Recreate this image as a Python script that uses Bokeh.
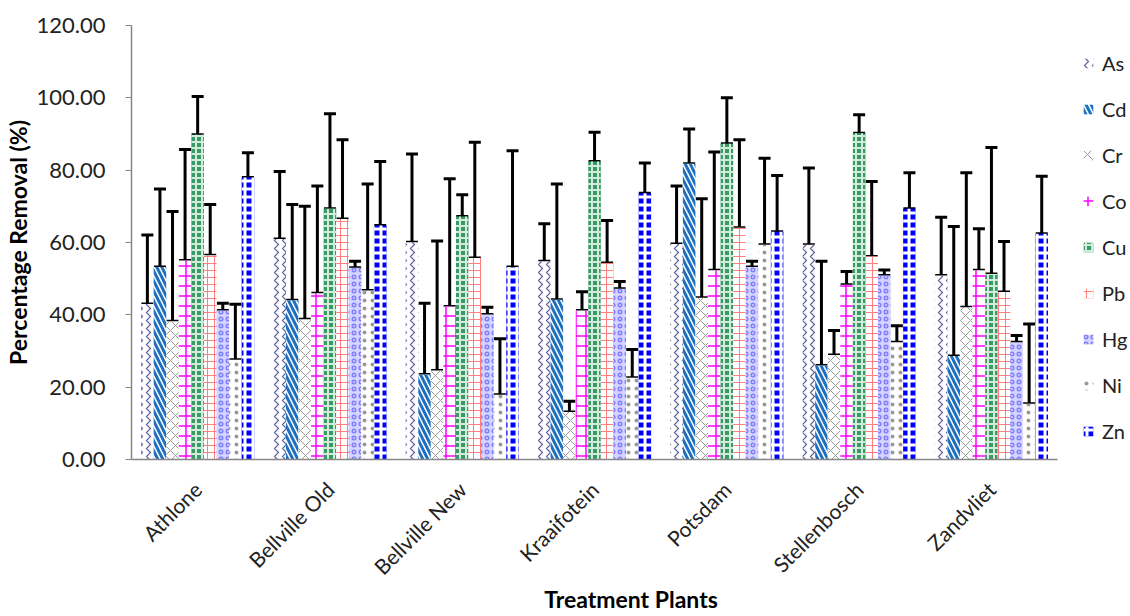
import math
from bokeh.plotting import figure
from bokeh.models import (ColumnDataSource, Range1d, Whisker, TeeHead,
                          Legend, LegendItem, FixedTicker, NumeralTickFormatter)
from bokeh.embed import file_html
from bokeh.resources import INLINE

plants = ["Athlone", "Bellville Old", "Bellville New", "Kraaifotein",
          "Potsdam", "Stellenbosch", "Zandvliet"]
metals = ["As", "Cd", "Cr", "Co", "Cu", "Pb", "Hg", "Ni", "Zn"]

# mean percentage removal per metal (one value per plant)
As = [43.0, 61.0, 60.1, 54.8, 59.6, 59.4, 50.9]
Cd = [53.2, 44.0, 23.5, 44.2, 81.8, 26.0, 28.6]
Cr = [38.2, 38.8, 24.6, 13.1, 44.7, 28.9, 42.1]
Co = [55.0, 46.0, 42.3, 41.2, 52.3, 48.3, 52.3]
Cu = [89.8, 69.3, 67.2, 82.4, 87.3, 90.2, 51.3]
Pb = [56.5, 66.5, 55.7, 54.3, 64.1, 56.1, 46.3]
Hg = [41.2, 53.0, 40.1, 47.2, 53.2, 50.9, 32.4]
Ni = [27.6, 46.7, 17.9, 22.6, 59.4, 32.4, 15.4]
Zn = [78.0, 64.7, 53.2, 73.6, 63.0, 69.3, 62.4]

# error (upper) per metal
As_err = [19.1, 18.6, 24.4, 10.4, 16.0, 21.2, 16.1]
Cd_err = [21.6, 26.5, 19.7, 32.0, 9.6, 28.8, 35.8]
Cr_err = [30.4, 31.2, 35.8, 3.0, 27.4, 6.8, 37.2]
Co_err = [30.7, 29.6, 35.3, 5.2, 32.7, 3.7, 11.5]
Cu_err = [10.6, 26.3, 6.0, 8.1, 12.7, 5.1, 35.0]
Pb_err = [14.0, 21.9, 32.0, 11.8, 24.3, 20.8, 14.0]
Hg_err = [2.0, 1.8, 2.0, 2.0, 1.6, 1.5, 1.9]
Ni_err = [15.3, 29.5, 15.5, 7.8, 23.9, 4.6, 22.1]
Zn_err = [6.8, 17.7, 32.2, 8.4, 15.5, 10.0, 15.9]

y_ticks = [0, 20, 40, 60, 80, 100, 120]

values = [As, Cd, Cr, Co, Cu, Pb, Hg, Ni, Zn]
errors = [As_err, Cd_err, Cr_err, Co_err, Cu_err, Pb_err, Hg_err, Ni_err, Zn_err]

styles = {
    "As": dict(fill_color="white", hatch_pattern="vertical_wave", hatch_color="#5f5f9f", hatch_scale=8, hatch_weight=1.2),
    "Cd": dict(fill_color="white", hatch_pattern="left_diagonal_line", hatch_color="#1f6fbf", hatch_scale=10, hatch_weight=3),
    "Cr": dict(fill_color="white", hatch_pattern="diagonal_cross", hatch_color="#9a9a9a", hatch_scale=10, hatch_weight=1),
    "Co": dict(fill_color="white", hatch_pattern="cross", hatch_color="#ff00ff", hatch_scale=10, hatch_weight=1.5),
    "Cu": dict(fill_color="#3a9a66", hatch_pattern="cross", hatch_color="#d2ecdc", hatch_scale=6, hatch_weight=2),
    "Pb": dict(fill_color="white", hatch_pattern="cross", hatch_color="#ff7f7f", hatch_scale=7, hatch_weight=1),
    "Hg": dict(fill_color="#d4d4ff", hatch_pattern="ring", hatch_color="#8080ff", hatch_scale=7, hatch_weight=1.5),
    "Ni": dict(fill_color="white", hatch_pattern="dot", hatch_color="#999999", hatch_scale=8, hatch_weight=4),
    "Zn": dict(fill_color="#0000ff", hatch_pattern="cross", hatch_color="white", hatch_scale=8, hatch_weight=3),
}

n = len(plants)
centers = [k + 0.5 for k in range(n)]

p = figure(width=1130, height=616, x_range=Range1d(0, 7.551),
           y_range=Range1d(0, 120), output_backend="svg", toolbar_location=None,
           min_border_left=128, min_border_right=0, min_border_top=25, min_border_bottom=157)
p.outline_line_color = None
p.xgrid.grid_line_color = None
p.ygrid.grid_line_color = None

bw = 0.095
items = []
for i, (m, vals, errs) in enumerate(zip(metals, values, errors)):
    off = (i - 4) * bw
    src = ColumnDataSource(dict(x=[c + off for c in centers], val=vals,
                                top=[v + e for v, e in zip(vals, errs)]))
    st = styles[m]
    r = p.vbar(x="x", top="val", bottom=0, width=bw, source=src, line_color=None, **st)
    items.append(LegendItem(label=m, renderers=[r]))
    w = Whisker(base="x", lower="val", upper="top",
                source=src, dimension="height", line_color="black", line_width=3,
                upper_head=TeeHead(size=12, line_color="black", line_width=3),
                lower_head=TeeHead(size=12, line_color="black", line_width=3))
    p.add_layout(w)

legend = Legend(items=items, location=(951, 16), border_line_color=None,
                background_fill_alpha=0, padding=0, margin=0,
                label_text_font="Lato", label_text_font_size="20px",
                label_text_color="#222222",
                glyph_width=12, glyph_height=12, label_height=24, spacing=22,
                label_standoff=8)
p.add_layout(legend)

font = "Lato"
p.yaxis.ticker = FixedTicker(ticks=y_ticks)
p.yaxis.formatter = NumeralTickFormatter(format="0.00")
p.xaxis.ticker = FixedTicker(ticks=centers)
p.xaxis.major_label_overrides = {c: name for c, name in zip(centers, plants)}
p.xaxis.bounds = (0, n)
p.yaxis.axis_label = "Percentage Removal (%)"
p.xaxis.axis_label = "Treatment Plants"
for ax in (p.xaxis, p.yaxis):
    ax.axis_line_color = "#868686"
    ax.axis_line_width = 1.5
    ax.major_label_text_font = font
    ax.major_label_text_color = "#222222"
    ax.axis_label_text_font = font
    ax.axis_label_text_font_style = "bold"
    ax.axis_label_text_font_size = "23px"
    ax.axis_label_text_color = "black"
p.yaxis.major_label_text_font_size = "22px"
p.xaxis.major_label_text_font_size = "21px"
p.yaxis.major_tick_line_color = "#868686"
p.yaxis.major_tick_out = 6
p.yaxis.major_tick_in = 0
p.yaxis.minor_tick_line_color = None
p.yaxis.major_label_standoff = 20
p.yaxis.axis_label_standoff = 2
p.xaxis.major_tick_line_color = None
p.xaxis.minor_tick_line_color = None
p.xaxis.major_label_orientation = math.pi / 4
p.xaxis.major_label_standoff = 20
p.xaxis.axis_label_standoff = -6

open("out.html", "w").write(file_html(p, INLINE))
